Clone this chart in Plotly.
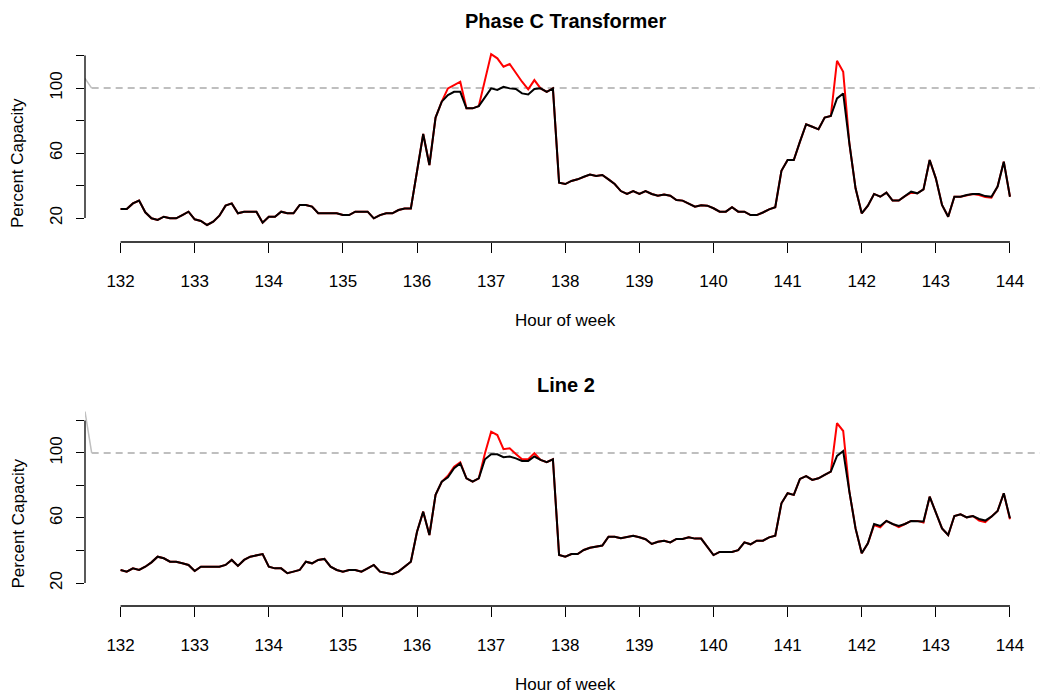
import numpy as np
import plotly.graph_objects as go

# Hour-of-week axis: 5-minute samples from hour 132 to hour 144
n_steps = 145
hours = 132 + np.arange(n_steps) / 12.0

# Phase C Transformer: black = capped load, red = uncapped load (percent capacity)
phase_c_black = [
    25.5, 25.5, 29, 30.7, 23.5, 19.8, 18.8, 20.8, 19.8, 19.8, 21.8, 23.9,
    19.2, 18.2, 15.7, 17.7, 21.4, 27.6, 29, 22.9, 23.9, 23.9, 23.9, 17.1,
    20.8, 20.8, 23.9, 22.9, 22.9, 28, 28, 27, 22.9, 22.9, 22.9, 22.9,
    21.8, 21.8, 23.9, 23.9, 23.9, 19.8, 21.8, 22.9, 22.9, 24.9, 25.9, 25.9,
    47.5, 71.7, 52.6, 81.8, 91.6, 95.7, 97.7, 97.7, 87.5, 87.5, 88.9, 94.7,
    99.8, 98.8, 100.8, 99.8, 99.4, 96.7, 96.1, 99.4, 99.8, 97.7, 99.8, 41.7,
    40.9, 42.8, 43.8, 45.4, 46.7, 45.9, 46.5, 43.8, 40.9, 36.6, 34.8, 36.6,
    34.8, 36.6, 34.8, 33.7, 34.5, 33.7, 31.1, 30.7, 28.6, 27, 27.8, 27.6,
    26, 23.9, 23.9, 26.6, 23.9, 23.9, 21.8, 21.8, 23.4, 25.3, 26.6, 49.1,
    55.7, 55.7, 67, 77.7, 76.2, 74.6, 81.8, 82.8, 93.6, 96.7, 66, 38.3,
    22.9, 27.6, 34.8, 33.1, 35.6, 30.7, 30.7, 33.5, 36.2, 35.2, 37.6, 55.7,
    44.4, 28, 20.8, 33.1, 33.1, 34.1, 34.8, 34.8, 33.5, 33.1, 39.4, 54.7,
    33.1,
]
phase_c_red = [
    25.5, 25.5, 29, 30.7, 23.5, 19.8, 18.8, 20.8, 19.8, 19.8, 21.8, 23.9,
    19.2, 18.2, 15.7, 17.7, 21.4, 27.6, 29, 22.9, 23.9, 23.9, 23.9, 17.1,
    20.8, 20.8, 23.9, 22.9, 22.9, 28, 28, 27, 22.9, 22.9, 22.9, 22.9,
    21.8, 21.8, 23.9, 23.9, 23.9, 19.8, 21.8, 22.9, 22.9, 24.9, 25.9, 25.9,
    47.5, 71.7, 52.6, 81.8, 91.6, 99.8, 101.8, 103.9, 87.5, 87.5, 88.9, 105,
    120.9, 118.3, 113.1, 114.8, 109, 103.9, 99.2, 104.9, 99.8, 97.7, 99.8, 41.7,
    40.9, 42.8, 43.8, 45.4, 46.7, 45.9, 46.5, 43.8, 40.9, 36.6, 34.8, 36.6,
    34.8, 36.6, 34.8, 33.7, 34.5, 33.7, 31.1, 30.7, 28.6, 27, 27.8, 27.6,
    26, 23.9, 23.9, 26.6, 23.9, 23.9, 21.8, 21.8, 23.4, 25.3, 26.6, 49.1,
    55.7, 55.7, 67, 77.7, 76.2, 74.6, 81.8, 82.8, 116.8, 110, 66, 38.3,
    22.9, 27.6, 34.8, 33.1, 35.6, 30.7, 30.7, 33.5, 35.6, 35.2, 37.6, 55.7,
    44.4, 28, 20.8, 33.1, 33.1, 34.1, 34.8, 34.1, 32.9, 32.5, 39.4, 54.7,
    33.1,
]

# Line 2
line2_black = [
    28, 27, 29, 28, 30, 32.7, 36.2, 35.2, 33.1, 33.1, 32.1, 31.1,
    27.4, 30, 30, 30, 30, 31.1, 34.2, 30.5, 34.2, 36.2, 37.2, 37.8,
    30, 29, 29, 26, 27, 28, 33.1, 32.1, 34.2, 34.8, 30, 28,
    27, 28, 28, 27, 29, 31.1, 27, 26, 25.4, 27, 30, 33.1,
    51.5, 63.9, 49.5, 74.2, 82.3, 85, 90.6, 93.6, 84.4, 82.3, 84.4, 96.1,
    99.2, 99.2, 97.4, 97.8, 96.7, 95.1, 95.1, 97.8, 95.7, 94.3, 96.1, 37.2,
    36.2, 37.8, 37.8, 40.3, 41.7, 42.4, 43, 48.5, 48.5, 47.5, 48.1, 49.1,
    48.1, 46.9, 44, 45.4, 46, 45, 47.1, 47.1, 48.1, 47.3, 47.3, 42.4,
    37.2, 39.1, 39.1, 39.1, 40.2, 45, 43.8, 46, 46, 48.1, 49.1, 69,
    75.2, 74.2, 84, 85.8, 83.4, 84.4, 86.5, 88.5, 98.2, 101.2, 76.2, 53.6,
    38.3, 44.4, 56.3, 55.1, 58.2, 56.3, 55.1, 56.3, 58.2, 58.2, 57.8, 73.1,
    62.9, 53.6, 49.5, 61.2, 62.3, 60.4, 61.2, 59.4, 58.4, 60.8, 64.3, 75.2,
    59.8,
]
line2_red = [
    28, 27, 29, 28, 30, 32.7, 36.2, 35.2, 33.1, 33.1, 32.1, 31.1,
    27.4, 30, 30, 30, 30, 31.1, 34.2, 30.5, 34.2, 36.2, 37.2, 37.8,
    30, 29, 29, 26, 27, 28, 33.1, 32.1, 34.2, 34.8, 30, 28,
    27, 28, 28, 27, 29, 31.1, 27, 26, 25.4, 27, 30, 33.1,
    51.5, 63.9, 49.5, 74.2, 82.3, 86, 91.6, 94.3, 84.4, 82.3, 84.4, 99.8,
    113.1, 111, 102.3, 102.9, 99.4, 96.1, 96.1, 99.8, 95.7, 94.3, 96.1, 37.2,
    36.2, 37.8, 37.8, 40.3, 41.7, 42.4, 43, 48.5, 48.5, 47.5, 48.1, 49.1,
    48.1, 46.9, 44, 45.4, 46, 45, 47.1, 47.1, 48.1, 47.3, 47.3, 42.4,
    37.2, 39.1, 39.1, 39.1, 40.2, 45, 43.8, 46, 46, 48.1, 49.1, 69,
    75.2, 74.2, 84, 85.8, 83.4, 84.4, 86.5, 88.5, 118.3, 113.5, 76.2, 53.6,
    38.3, 44.4, 55.6, 54.3, 58.2, 56.3, 54.3, 56.3, 58.2, 58.2, 57.2, 73.1,
    62.9, 53.6, 49.5, 61.2, 62.3, 60.4, 61.2, 58.4, 57.4, 60.8, 64.3, 75.2,
    59.2,
]

# 100% capacity reference and its short solid lead-in at the left edge
capacity_level = 100
ref_x = [131.61, 144.48]
lead_x = [131.52, 131.61]
lead_y_phase_c = [106, 100]
lead_y_line2 = [125.5, 100]

panel_titles = ["Phase C Transformer", "Line 2"]
x_ticks = list(range(132, 145))
y_ticks = [20, 40, 60, 80, 100, 120]
y_ticktext = ["20", "", "60", "", "100", ""]

W, H = 1042, 694
FONT = "Liberation Sans, Arial, Helvetica, sans-serif"
GRAY = "#bfbfbf"

# Pixel geometry of the two panels
x_left_px, x_right_px = 85.0, 1039.6
x_range = [131.52, 144.4]
panels = [
    dict(bottom=242.0, top=45.0, yr=[5.23, 126.5], black=phase_c_black,
         red=phase_c_red, lead=lead_y_phase_c, title_y=20.7,
         ylab_y=163.5, xlab_y=320.0),
    dict(bottom=606.0, top=405.0, yr=[5.85, 129.5], black=line2_black,
         red=line2_red, lead=lead_y_line2, title_y=384.7,
         ylab_y=524.0, xlab_y=684.0),
]

fig = go.Figure()
layout = dict(
    width=W, height=H,
    margin=dict(l=0, r=0, t=0, b=0),
    paper_bgcolor="white", plot_bgcolor="white",
    showlegend=False,
    font=dict(family=FONT, size=17, color="black"),
    annotations=[], shapes=[],
)

for k, p in enumerate(panels):
    xa = "x" if k == 0 else f"x{k + 1}"
    ya = "y" if k == 0 else f"y{k + 1}"
    xkey = "xaxis" if k == 0 else f"xaxis{k + 1}"
    ykey = "yaxis" if k == 0 else f"yaxis{k + 1}"

    fig.add_trace(go.Scatter(x=lead_x, y=p["lead"], mode="lines",
                             line=dict(color=GRAY, width=1.5),
                             xaxis=xa, yaxis=ya, hoverinfo="skip"))
    fig.add_trace(go.Scatter(x=ref_x, y=[capacity_level] * len(ref_x),
                             mode="lines",
                             line=dict(color=GRAY, width=2, dash="7px,5px"),
                             xaxis=xa, yaxis=ya, hoverinfo="skip"))
    fig.add_trace(go.Scatter(x=hours, y=p["red"], mode="lines",
                             line=dict(color="#ff0000", width=2),
                             xaxis=xa, yaxis=ya))
    fig.add_trace(go.Scatter(x=hours, y=p["black"], mode="lines",
                             line=dict(color="black", width=2),
                             xaxis=xa, yaxis=ya))

    layout[xkey] = dict(
        domain=[x_left_px / W, x_right_px / W], range=x_range,
        anchor=ya, showgrid=False, zeroline=False, showline=False,
        ticks="outside", ticklen=10, tickwidth=1.3, tickcolor="black",
        tickvals=x_ticks, ticktext=[str(v) for v in x_ticks],
        tickfont=dict(family=FONT, size=17, color="black"),
        ticklabelstandoff=14,
    )
    layout[ykey] = dict(
        domain=[1 - p["bottom"] / H, 1 - p["top"] / H], range=p["yr"],
        anchor=xa, showgrid=False, zeroline=False, showline=False,
        ticks="outside", ticklen=8, tickwidth=1.3, tickcolor="black",
        tickvals=y_ticks, ticktext=y_ticktext, tickangle=-90,
        tickfont=dict(family=FONT, size=17, color="black"),
        ticklabelstandoff=7,
    )

    # R-style axis lines that span only the tick range
    layout["shapes"].append(dict(type="line", xref=xa, yref="paper",
                                 x0=x_ticks[0], x1=x_ticks[-1],
                                 y0=1 - p["bottom"] / H, y1=1 - p["bottom"] / H,
                                 line=dict(color="black", width=1.3)))
    layout["shapes"].append(dict(type="line", xref="paper", yref=ya,
                                 x0=x_left_px / W, x1=x_left_px / W,
                                 y0=y_ticks[0], y1=y_ticks[-1],
                                 line=dict(color="black", width=1.3)))

    layout["annotations"] += [
        dict(text=f"<b>{panel_titles[k]}</b>", xref="paper", yref="paper",
             x=565.5 / W, y=1 - p["title_y"] / H, showarrow=False,
             xanchor="center", yanchor="middle",
             font=dict(family=FONT, size=20, color="black")),
        dict(text="Hour of week", xref="paper", yref="paper",
             x=565.5 / W, y=1 - p["xlab_y"] / H, showarrow=False,
             xanchor="center", yanchor="middle",
             font=dict(family=FONT, size=17, color="black")),
        dict(text="Percent Capacity", xref="paper", yref="paper",
             x=17.5 / W, y=1 - p["ylab_y"] / H, showarrow=False,
             textangle=-90, xanchor="center", yanchor="middle",
             font=dict(family=FONT, size=17, color="black")),
    ]

fig.update_layout(**layout)
fig.write_html("out.html")
